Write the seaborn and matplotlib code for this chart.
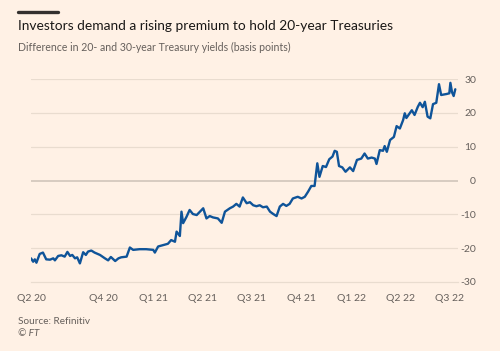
import pandas as pd
import matplotlib.pyplot as plt
import matplotlib.dates as mdates
import seaborn as sns

# ======================
# Data
# ======================

dates = [
    "2020-05-21", "2020-05-25", "2020-05-28", "2020-05-31", "2020-06-06", "2020-06-12",
    "2020-06-18", "2020-06-25", "2020-07-01", "2020-07-04", "2020-07-10", "2020-07-16",
    "2020-07-22", "2020-07-27", "2020-08-01", "2020-08-05", "2020-08-10", "2020-08-14",
    "2020-08-19", "2020-08-25", "2020-08-30", "2020-09-03", "2020-09-09", "2020-09-15",
    "2020-09-25", "2020-10-04", "2020-10-10", "2020-10-15", "2020-10-23", "2020-10-29",
    "2020-11-03", "2020-11-13", "2020-11-19", "2020-11-25", "2020-12-07", "2020-12-19",
    "2021-01-01", "2021-01-04", "2021-01-10", "2021-01-19", "2021-01-28", "2021-02-03",
    "2021-02-10", "2021-02-13", "2021-02-19", "2021-02-22", "2021-02-25", "2021-03-03",
    "2021-03-09", "2021-03-15", "2021-03-22", "2021-03-28", "2021-04-03", "2021-04-09",
    "2021-04-15", "2021-04-21", "2021-04-30", "2021-05-07", "2021-05-13", "2021-05-22",
    "2021-05-28", "2021-06-03", "2021-06-09", "2021-06-15", "2021-06-22", "2021-06-28",
    "2021-07-04", "2021-07-10", "2021-07-16", "2021-07-22", "2021-07-29", "2021-08-04",
    "2021-08-10", "2021-08-16", "2021-08-22", "2021-08-28", "2021-09-03", "2021-09-09",
    "2021-09-15", "2021-09-24", "2021-10-01", "2021-10-07", "2021-10-13", "2021-10-19",
    "2021-10-25", "2021-10-30", "2021-11-03", "2021-11-09", "2021-11-15", "2021-11-21",
    "2021-11-27", "2021-12-01", "2021-12-05", "2021-12-09", "2021-12-15", "2021-12-21",
    "2021-12-29", "2022-01-04", "2022-01-11", "2022-01-19", "2022-01-25", "2022-01-31",
    "2022-02-07", "2022-02-13", "2022-02-16", "2022-02-22", "2022-02-28", "2022-03-03",
    "2022-03-07", "2022-03-13", "2022-03-20", "2022-03-25", "2022-03-31", "2022-04-06",
    "2022-04-09", "2022-04-12", "2022-04-18", "2022-04-22", "2022-04-27", "2022-05-03",
    "2022-05-07", "2022-05-12", "2022-05-16", "2022-05-21", "2022-05-26", "2022-05-31",
    "2022-06-06", "2022-06-11", "2022-06-15", "2022-06-25", "2022-06-30", "2022-07-02",
    "2022-07-05", "2022-07-08", "2022-07-11",
]

spread_bp = [
    -23.0, -24.0, -23.3, -24.3, -21.7, -21.3,
    -23.3, -23.4, -23.0, -23.6, -22.3, -22.1,
    -22.5, -21.1, -22.3, -22.0, -23.0, -22.7,
    -24.5, -21.2, -22.0, -21.0, -20.7, -21.3,
    -22.0, -23.0, -23.6, -22.6, -23.8, -23.0,
    -22.7, -22.5, -19.8, -20.5, -20.3, -20.3,
    -20.5, -21.3, -19.5, -19.1, -18.7, -17.6,
    -18.1, -15.1, -16.4, -9.2, -12.6, -10.8,
    -8.7, -9.9, -10.2, -9.2, -8.2, -11.2,
    -10.5, -10.9, -11.2, -12.5, -9.2, -8.2,
    -7.7, -6.9, -7.7, -5.0, -6.7, -6.4,
    -7.3, -7.6, -7.3, -7.9, -7.7, -9.2,
    -9.9, -10.5, -7.7, -6.9, -7.5, -6.9,
    -5.3, -4.8, -5.3, -4.8, -3.3, -1.6,
    -1.6, 5.1, 1.1, 4.3, 4.0, 6.3,
    7.1, 8.8, 8.5, 4.3, 3.9, 2.6,
    3.9, 2.8, 6.1, 6.5, 8.0, 6.5,
    6.8, 6.5, 4.9, 9.0, 8.8, 10.2,
    8.5, 12.0, 12.9, 16.1, 15.4, 17.9,
    19.9, 18.5, 19.9, 20.8, 19.4, 21.8,
    23.0, 21.7, 23.3, 18.9, 18.4, 22.6,
    23.0, 28.5, 25.3, 25.6, 25.8, 28.9,
    26.1, 25.0, 27.0,
]

quarter_ticks = ["2020-05-21", "2020-07-01", "2020-10-01", "2021-01-01", "2021-04-01",
                 "2021-07-01", "2021-10-01", "2022-01-01", "2022-04-01", "2022-07-01"]
quarter_labels = ["Q2 20", "", "Q4 20", "Q1 21", "Q2 21", "Q3 21", "Q4 21",
                  "Q1 22", "Q2 22", "Q3 22"]
y_ticks = [-30, -20, -10, 0, 10, 20, 30]

df = pd.DataFrame({"date": pd.to_datetime(dates), "spread": spread_bp})

# ======================
# Style
# ======================

BG = "#fff1e5"
GRID = "#e9dccf"
ZERO = "#d7cbc0"
TEXT = "#66605c"
BLUE = "#0f5499"

sns.set_style("white")
plt.rcParams["font.family"] = ["Lato", "DejaVu Sans"]

fig = plt.figure(figsize=(5, 3.51), dpi=100, facecolor=BG)
ax = fig.add_axes([0.062, 0.1966, 0.854, 0.578], facecolor=BG)

sns.lineplot(data=df, x="date", y="spread", ax=ax, color=BLUE, linewidth=1.7)

ax.set_ylim(-30, 30)
ax.set_xlim(pd.Timestamp("2020-05-21"), pd.Timestamp("2022-07-16"))

# gridlines
for v in y_ticks[1:]:
    ax.axhline(v, color=ZERO if v == 0 else GRID, linewidth=1.4 if v == 0 else 0.9, zorder=0)

for side in ["top", "left", "right"]:
    ax.spines[side].set_visible(False)
ax.spines["bottom"].set_color(GRID)
ax.spines["bottom"].set_linewidth(0.9)

# x axis: quarters labelled, months as minor ticks
ax.set_xticks(pd.to_datetime(quarter_ticks))
ax.set_xticklabels(quarter_labels)
ax.xaxis.set_minor_locator(mdates.MonthLocator())
ax.tick_params(axis="x", which="major", length=5, width=0.8, color="#d7cbc0",
               labelsize=7.5, labelcolor=TEXT, pad=4)
ax.tick_params(axis="x", which="minor", length=3.5, width=0.8, color="#ddd1c6")

# y axis on the right
ax.yaxis.tick_right()
ax.set_yticks(y_ticks)
ax.set_yticklabels([str(v) for v in y_ticks], ha="right")
ax.tick_params(axis="y", length=0, labelsize=7.5, labelcolor=TEXT, pad=13)

ax.set_xlabel("")
ax.set_ylabel("")

# ======================
# Titles and notes
# ======================

fig.add_artist(plt.Line2D([18 / 500, 58 / 500], [1 - 11.5 / 351, 1 - 11.5 / 351],
                          color="#33302e", linewidth=2.4))
fig.text(18 / 500, 1 - 26 / 351, "Investors demand a rising premium to hold 20-year Treasuries",
         fontsize=9.95, color="#1a1817", va="center")
fig.text(18 / 500, 1 - 47.5 / 351, "Difference in 20- and 30-year Treasury yields (basis points)",
         fontsize=7.6, color=TEXT, va="center")
fig.text(18 / 500, 1 - 321.5 / 351, "Source: Refinitiv", fontsize=7.2, color=TEXT, va="center")
fig.text(18 / 500, 1 - 333.5 / 351, "© FT", fontsize=7.2, color=TEXT, va="center", style="italic")

plt.savefig("out.png", dpi=100, facecolor=BG)
